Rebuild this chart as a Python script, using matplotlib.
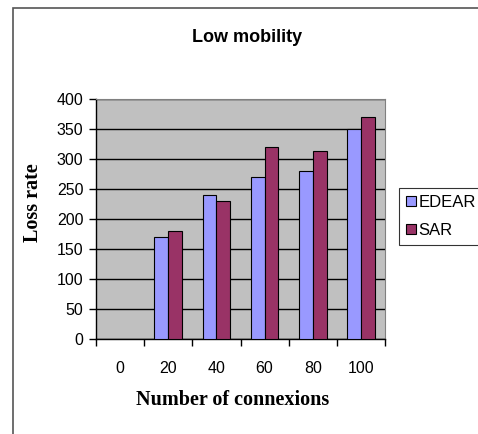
import numpy as np
import matplotlib
matplotlib.use("Agg")
import matplotlib.pyplot as plt
from matplotlib.patches import Rectangle

# loss rate per number of connexions (no measurement at 0)
connexions = ["0", "20", "40", "60", "80", "100"]
edear = [np.nan, 170, 240, 270, 280, 350]
sar = [np.nan, 180, 230, 320, 313, 370]
yticks = [0, 50, 100, 150, 200, 250, 300, 350, 400]

fig = plt.figure(figsize=(4.78, 4.34), dpi=100)
ax = fig.add_axes([96/478, 95/434, 289/478, 240/434])

x = np.arange(len(connexions))
w = 1/3.5
ax.bar(x - w/2, edear, w, color="#9999FF", edgecolor="black", linewidth=0.8,
       label="EDEAR", zorder=3)
ax.bar(x + w/2, sar, w, color="#993366", edgecolor="black", linewidth=0.8,
       label="SAR", zorder=3)

ax.set_facecolor("#C0C0C0")
ax.set_xlim(-0.5, len(connexions) - 0.5)
ax.set_ylim(0, 400)
ax.set_yticks(yticks)
ax.yaxis.grid(True, color="black", linewidth=1, zorder=1)
ax.set_axisbelow(True)

# ticks between categories, labels centred under them
ax.set_xticks(np.arange(-0.5, len(connexions)))
ax.set_xticklabels([])
ax.set_xticks(x, minor=True)
ax.set_xticklabels(connexions, minor=True)
ax.tick_params(axis="x", which="minor", length=0, pad=16)
ax.tick_params(axis="y", pad=4)
ax.tick_params(axis="both", which="major", length=5, width=1, color="black")
for lab in ax.get_xticklabels(minor=True) + ax.get_yticklabels():
    lab.set_fontfamily("Liberation Sans")
    lab.set_fontsize(11.5)

for s in ["top", "right"]:
    ax.spines[s].set_color("#808080")
for s in ["left", "bottom"]:
    ax.spines[s].set_color("black")
    ax.spines[s].set_linewidth(1)

fig.text(233/478, 1 - 400/434, "Number of connexions", ha="center",
         va="center", fontfamily="Liberation Serif", fontweight="bold",
         fontsize=14.5)
fig.text(33/478, 1 - 203/434, "Loss rate", ha="center", va="center",
         rotation=90, fontfamily="Liberation Serif", fontweight="bold",
         fontsize=14.5)
fig.text(247/478, 1 - 37/434, "Low mobility", ha="center", va="center",
         fontfamily="Liberation Sans", fontweight="bold", fontsize=13)

leg = ax.legend(loc="upper left", bbox_to_anchor=(399/478, 1 - 188/434),
                bbox_transform=fig.transFigure, frameon=True, fancybox=False,
                borderaxespad=0, handlelength=0.6, handleheight=0.6,
                handletextpad=0.15, borderpad=0.4, labelspacing=0.8,
                prop={"family": "Liberation Sans", "size": 12})
leg.get_frame().set_edgecolor("black")
leg.get_frame().set_linewidth(0.8)
leg._legend_box.sep = 0

# outer chart frame
fig.patches.append(Rectangle((13/478, -0.1), 1.1, 1 - 8/434 + 0.1,
                             transform=fig.transFigure, fill=False,
                             edgecolor="#555555", linewidth=1.2))

fig.savefig("out.png", dpi=100)
